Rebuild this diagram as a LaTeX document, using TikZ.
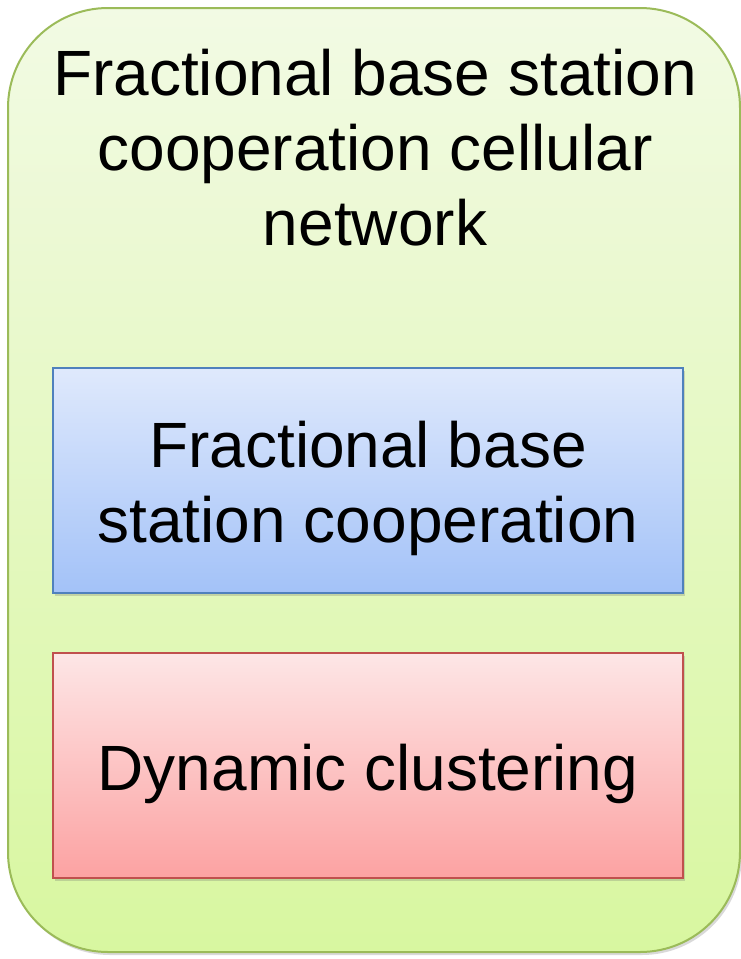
\documentclass[tikz,border=0pt]{standalone}
\usepackage{fontspec}
\setmainfont{Liberation Sans}
\usetikzlibrary{shadows}

\definecolor{cellline}{HTML}{9BBB59}
\definecolor{celltop}{HTML}{F2FAE4}
\definecolor{cellbot}{HTML}{D8F7A0}
\definecolor{blueline}{HTML}{4F81BD}
\definecolor{bluetop}{HTML}{DFE9FC}
\definecolor{bluebot}{HTML}{A3C2F8}
\definecolor{redline}{HTML}{C0504D}
\definecolor{redtop}{HTML}{FDE6E6}
\definecolor{redbot}{HTML}{FCA2A2}

\tikzset{
  softshadow/.style={drop shadow={shadow xshift=2pt, shadow yshift=-3pt, opacity=0.25, fill=black!60}},
  container/.style={draw=cellline, line width=2pt, rounded corners=100pt,
    top color=celltop, bottom color=cellbot, softshadow,
    minimum width=732pt, minimum height=944pt, inner sep=0pt},
  bluebox/.style={draw=blueline, line width=2pt, top color=bluetop, bottom color=bluebot,
    softshadow, minimum width=630pt, minimum height=225pt, inner sep=0pt},
  redbox/.style={draw=redline, line width=2pt, top color=redtop, bottom color=redbot,
    softshadow, minimum width=630pt, minimum height=225pt, inner sep=0pt},
  bigtext/.style={inner sep=0pt, align=center, font=\fontsize{64}{75}\selectfont},
}

\begin{document}
\begin{tikzpicture}[x=1pt, y=-1pt]
  \useasboundingbox (0,0) rectangle (741,959);

  % outer cellular-network container
  \node[container] (cell) at (374,480) {};
  \node[bigtext, anchor=north] (title) at (375,49)
    {Fractional base station\\cooperation cellular\\network};

  % inner blocks
  \node[bluebox] (fbsc) at (368,480.5) {};
  \node[bigtext, anchor=north] (fbsctext) at (368,421)
    {Fractional base\\station cooperation};

  \node[redbox] (dc) at (368,765.5) {};
  \node[bigtext, anchor=base] (dctext) at (368,790) {Dynamic clustering};
\end{tikzpicture}
\end{document}
